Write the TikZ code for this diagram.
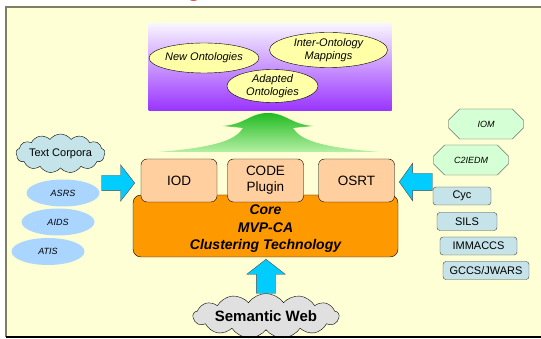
\documentclass[tikz,border=0pt]{standalone}
\usepackage{fontspec}
\setmainfont{Liberation Sans}
\usetikzlibrary{shapes.geometric, shapes.symbols, shapes.misc, shapes.arrows}

\definecolor{paper}{HTML}{FFFFD5}
\definecolor{rim}{HTML}{7F7F66}
\definecolor{ovalfill}{HTML}{FFFFA8}
\definecolor{lavtop}{HTML}{F8F4FF}
\definecolor{lavmid}{HTML}{DCCAFF}
\definecolor{lavbot}{HTML}{9933FF}
\definecolor{sprout}{HTML}{22BB22}
\definecolor{sproutlight}{HTML}{B4F0A4}
\definecolor{peach}{HTML}{FFCFA0}
\definecolor{coreorange}{HTML}{FF9900}
\definecolor{flow}{HTML}{00CCFF}
\definecolor{sky}{HTML}{AAD5FF}
\definecolor{mint}{HTML}{D5FFD5}
\definecolor{kbblue}{HTML}{C5E3E8}
\definecolor{mist}{HTML}{C4E4EA}
\definecolor{smoke}{HTML}{E0E0E0}
\definecolor{titlered}{HTML}{DD2211}

\begin{document}
\begin{tikzpicture}[
        x=1pt, y=-1pt,
        every node/.style={inner sep=0pt},
        result/.style={draw, ellipse, fill=ovalfill, align=center, font=\fontsize{11}{13}\selectfont\itshape},
        source/.style={ellipse, fill=sky, minimum width=73pt, minimum height=27pt, font=\fontsize{9}{11}\selectfont\itshape},
        model/.style={draw=black!75, chamfered rectangle, chamfered rectangle xsep=7pt, chamfered rectangle ysep=8pt, fill=mint, minimum width=75pt, minimum height=30pt, font=\fontsize{9}{11}\selectfont\itshape},
        kb/.style={draw=black!75, rounded corners=3pt, fill=kbblue, minimum height=18pt, font=\fontsize{11}{13}\selectfont},
        tool/.style={draw, rounded corners=6pt, fill=peach, minimum width=76pt, minimum height=43pt, align=center, font=\fontsize{13.5}{16}\selectfont},
        feed/.style={draw=black!70, fill=flow, single arrow, single arrow head indent=0pt},
        puff/.style={draw, cloud, cloud puffs=13, cloud puff arc=110, cloud ignores aspect}
    ]
    \useasboundingbox (0,0) rectangle (541,339);
    % slide frame
    \fill[white] (0,0) rectangle (541,339);
    \fill[paper] (6,7) rectangle (545,337);
    \draw[rim, line width=2pt] (6,337) -- (6,7) -- (545,7);
    \node[text=titlered, font=\fontsize{28}{30}\selectfont, anchor=base] (title) at (194,-4.5) {g};

    % outputs
    \node[shade, top color=lavtop, middle color=lavmid, bottom color=lavbot, minimum width=243pt, minimum height=87pt] (outbox) at (270,67.5) {};
    \node[result, minimum width=96pt, minimum height=30pt] (newont) at (204,58) {New Ontologies};
    \node[result, minimum width=118pt, minimum height=35pt] (mapping) at (328.5,50) {Inter-Ontology\\Mappings};
    \node[result, minimum width=91pt, minimum height=33pt] (adapted) at (272.5,86) {Adapted\\Ontologies};

    % growth shape
    \shade[top color=sprout, bottom color=sproutlight]
        (158,152) .. controls (220,147) and (236,139) .. (243,128) -- (223,126)
        .. controls (246,124) and (250,113) .. (268,113)
        .. controls (286,113) and (290,124) .. (313,126) -- (293,128)
        .. controls (300,139) and (316,147) .. (380,152) -- cycle;

    % core and plugins
    \node[draw, rounded corners=8pt, fill=coreorange, minimum width=265pt, minimum height=62pt, align=center,
          font=\fontsize{14}{17.5}\selectfont\bfseries\itshape] (core) at (265.5,226) {\\[-2pt]Core\\MVP-CA\\Clustering Technology};
    \node[tool] (iod) at (179,180.5) {IOD};
    \node[tool] (code) at (265.5,180.5) {CODE\\Plugin};
    \node[tool] (osrt) at (356.5,180.5) {OSRT};

    % left inputs
    \node[puff, fill=mist, minimum width=89pt, minimum height=39pt, font=\fontsize{11}{13}\selectfont] (corpora) at (60.5,153.5) {Text Corpora};
    \node[source] (asrs) at (63,193) {ASRS};
    \node[source] (aids) at (58,222) {AIDS};
    \node[source] (atis) at (48,251.5) {ATIS};

    % right inputs
    \node[model] (iom) at (486,124) {IOM};
    \node[model] (c2iedm) at (471,160) {C2IEDM};
    \node[kb, minimum width=58pt] (cyc) at (462,196) {Cyc};
    \node[kb, minimum width=60pt] (sils) at (467,221.5) {SILS};
    \node[kb, minimum width=77pt] (immaccs) at (478.5,246) {IMMACCS};
    \node[kb, minimum width=86pt] (gccs) at (486,270.5) {GCCS/JWARS};

    % bottom input
    \node[puff, fill=smoke, minimum width=146pt, minimum height=45pt, font=\fontsize{15}{18}\selectfont\bfseries] (semweb) at (266,316) {Semantic Web};

    % feeds into the core
    \node[feed, inner sep=7.5pt, minimum height=33pt, single arrow head extend=10.5pt, single arrow tip angle=104, anchor=tip] (feedleft) at (135,183) {};
    \node[feed, inner sep=8.5pt, minimum height=33pt, single arrow head extend=10pt, single arrow tip angle=109, shape border rotate=180, anchor=tip] (feedright) at (399,182) {};
    \node[feed, inner sep=9.5pt, minimum height=34pt, single arrow head extend=9.5pt, single arrow tip angle=104, shape border rotate=90, anchor=tip] (feedup) at (266,259) {};

    \draw[black, line width=1.5pt] (6,337) -- (545,337);
\end{tikzpicture}
\end{document}
